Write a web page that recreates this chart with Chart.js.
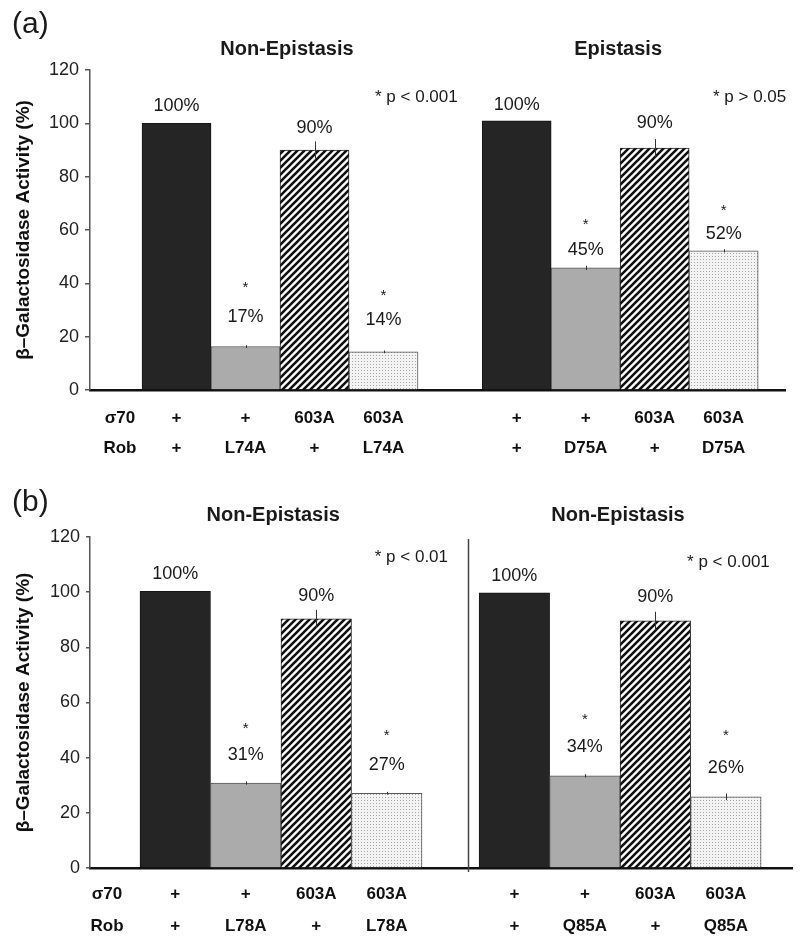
<!DOCTYPE html>
<html>
<head>
<meta charset="utf-8">
<script src="https://cdn.jsdelivr.net/npm/chart.js@4.4.1/dist/chart.umd.min.js"></script>
<style>
  body { margin: 0; background: #fff; }
  #wrap { position: relative; width: 800px; height: 940px; }
  .panel { position: absolute; left: 0; width: 800px; }
</style>
</head>
<body>
<div id="wrap">
  <div class="panel" style="top:0;height:460px"><canvas id="chartA" width="800" height="460"></canvas></div>
  <div class="panel" style="top:460px;height:480px"><canvas id="chartB" width="800" height="480"></canvas></div>
</div>
<script>
// ---- panel (a) data ----
const titlesA = ['Non-Epistasis', 'Epistasis'];
const sigmaA = ['+', '+', '603A', '603A', '+', '+', '603A', '603A'];
const robA = ['+', 'L74A', '+', 'L74A', '+', 'D75A', '+', 'D75A'];
const valuesA = [100, 16.3, 90, 14.3, 100.9, 45.8, 90.7, 52.2];
const errorsA = [0, 0.5, 3.2, 0.5, 0, 0.8, 3.4, 0.6];
const pctA = ['100%', '17%', '90%', '14%', '100%', '45%', '90%', '52%'];
const starsA = [false, true, false, true, false, true, false, true];
const notesA = ['* p < 0.001', '* p > 0.05'];

// ---- panel (b) data ----
const titlesB = ['Non-Epistasis', 'Non-Epistasis'];
const sigmaB = ['+', '+', '603A', '603A', '+', '+', '603A', '603A'];
const robB = ['+', 'L78A', '+', 'L78A', '+', 'Q85A', '+', 'Q85A'];
const valuesB = [100.3, 30.8, 90.3, 27.1, 99.8, 33.4, 89.6, 25.8];
const errorsB = [0, 0.6, 3.3, 0.5, 0, 0.6, 3.3, 1.2];
const pctB = ['100%', '31%', '90%', '27%', '100%', '34%', '90%', '26%'];
const starsB = [false, true, false, true, false, true, false, true];
const notesB = ['* p < 0.01', '* p < 0.001'];

const yTicks = [0, 20, 40, 60, 80, 100, 120];
const yTitle = 'β–Galactosidase Activity (%)';
const rowHeads = ['σ70', 'Rob'];

const FONT = '"Liberation Sans", Arial, Helvetica, sans-serif';
Chart.defaults.font.family = FONT;
Chart.defaults.color = '#1a1a1a';

function hatchPattern() {
  const c = document.createElement('canvas');
  c.width = 7; c.height = 7;
  const g = c.getContext('2d');
  g.fillStyle = '#fff';
  g.fillRect(0, 0, 7, 7);
  g.strokeStyle = '#111';
  g.lineWidth = 2.6;
  g.beginPath();
  g.moveTo(-1, 8); g.lineTo(8, -1);
  g.moveTo(-1, 1); g.lineTo(1, -1);
  g.moveTo(6, 8); g.lineTo(8, 6);
  g.stroke();
  return g.createPattern(c, 'repeat');
}

function dotPattern() {
  const c = document.createElement('canvas');
  c.width = 3; c.height = 3;
  const g = c.getContext('2d');
  g.fillStyle = '#f3f3f3';
  g.fillRect(0, 0, 3, 3);
  g.fillStyle = '#a5a5a5';
  g.fillRect(1, 1, 1, 1);
  return g.createPattern(c, 'repeat');
}

const fills4 = ['#252525', '#ababab', hatchPattern(), dotPattern()];
const borders4 = ['#151515', '#555', '#222', '#555'];

// layout of each panel (positions in slot / value units)
const panelA = {
  id: 'chartA', letter: '(a)', titles: titlesA, sigma: sigmaA, rob: robA,
  values: valuesA, errors: errorsA, pct: pctA, stars: starsA, notes: notesA,
  xMin: -1.254, xMax: 8.819, gap: 0.93, header: -0.82, barW: 69,
  padTop: 70, padRight: 15, xAxisH: 70, tickLen: 5,
  rowLine: 1.76, rowPad: 5,
  labelGap: [17, 30, 22, 32, 16, 18, 25, 17],
  starGap: [0, 32, 0, 27, 0, 28, 0, 26],
  titleX: [1.6, 6.4], titleY: 49,
  noteAt: [[2.877, 109.9], [7.775, 109.9]],
  letterY: 25, divider: null
};

const panelB = {
  id: 'chartB', letter: '(b)', titles: titlesB, sigma: sigmaB, rob: robB,
  values: valuesB, errors: errorsB, pct: pctB, stars: starsB, notes: notesB,
  xMin: -1.209, xMax: 8.748, gap: 0.81, header: -0.968, barW: 70.5,
  padTop: 77, padRight: 8, xAxisH: 72, tickLen: 4,
  rowLine: 1.88, rowPad: 2,
  labelGap: [17, 28, 23, 28, 17, 29, 24, 29],
  starGap: [0, 29, 0, 32, 0, 30, 0, 35],
  titleX: [1.39, 6.28], titleY: 55,
  noteAt: [[2.83, 112.8], [7.26, 111]],
  letterY: 43, divider: 4.152
};

function panelPlugin(p) {
  return {
    id: 'panelText',
    afterDatasetsDraw(chart) {
      const ctx = chart.ctx;
      const xs = chart.scales.x;
      const ys = chart.scales.y;
      const area = chart.chartArea;
      const bars = chart.getDatasetMeta(0).data;
      ctx.save();

      /* error bars */
      ctx.strokeStyle = '#333';
      ctx.lineWidth = 1;
      bars.forEach((bar, i) => {
        const e = p.errors[i];
        if (!e) return;
        const x = Math.round(bar.x) + 0.5;
        ctx.beginPath();
        ctx.moveTo(x, ys.getPixelForValue(p.values[i] - e));
        ctx.lineTo(x, ys.getPixelForValue(p.values[i] + e));
        ctx.stroke();
      });

      /* divider between groups */
      if (p.divider !== null) {
        const dx = Math.round(xs.getPixelForValue(p.divider)) + 0.5;
        ctx.strokeStyle = '#444';
        ctx.lineWidth = 1.5;
        ctx.beginPath();
        ctx.moveTo(dx, area.top + 2);
        ctx.lineTo(dx, area.bottom + 4);
        ctx.stroke();
      }

      /* percentage labels and stars */
      ctx.fillStyle = '#1a1a1a';
      ctx.textAlign = 'center';
      ctx.textBaseline = 'middle';
      bars.forEach((bar, i) => {
        const ly = bar.y - p.labelGap[i];
        ctx.font = '18px ' + FONT;
        ctx.fillText(p.pct[i], bar.x, ly);
        if (p.stars[i]) {
          ctx.font = '15px ' + FONT;
          ctx.fillText('*', bar.x, ly - p.starGap[i] + 3);
        }
      });

      /* group titles */
      ctx.font = 'bold 20px ' + FONT;
      p.titles.forEach((t, i) => {
        ctx.fillText(t, xs.getPixelForValue(p.titleX[i]), p.titleY);
      });

      /* p-value notes */
      ctx.textAlign = 'left';
      ctx.font = '17px ' + FONT;
      p.notes.forEach((t, i) => {
        ctx.fillText(t, xs.getPixelForValue(p.noteAt[i][0]), ys.getPixelForValue(p.noteAt[i][1]));
      });

      /* panel letter */
      ctx.font = '30px ' + FONT;
      ctx.fillText(p.letter, 12, p.letterY);
      ctx.restore();
    }
  };
}

function makePanel(p) {
  const xs = p.values.map((_, i) => (i < 4 ? i : i + p.gap));
  const tickPos = [p.header].concat(xs);

  new Chart(document.getElementById(p.id), {
    type: 'bar',
    data: {
      datasets: [{
        data: p.values.map((v, i) => ({ x: xs[i], y: v })),
        backgroundColor: p.values.map((_, i) => fills4[i % 4]),
        borderColor: p.values.map((_, i) => borders4[i % 4]),
        borderWidth: 1,
        barThickness: p.barW
      }]
    },
    options: {
      responsive: false,
      animation: false,
      layout: { padding: { top: p.padTop, right: p.padRight, left: 0, bottom: 0 } },
      plugins: { legend: { display: false }, tooltip: { enabled: false } },
      scales: {
        x: {
          type: 'linear',
          min: p.xMin,
          max: p.xMax,
          offset: false,
          bounds: 'data',
          grid: { display: false },
          border: { color: '#111', width: 2.5 },
          afterBuildTicks: (scale) => {
            scale.ticks = tickPos.map(v => ({ value: v }));
          },
          afterFit: (scale) => { scale.height = p.xAxisH; },
          ticks: {
            autoSkip: false,
            maxRotation: 0,
            padding: p.rowPad,
            color: '#111',
            font: { size: 17, weight: 'bold', lineHeight: p.rowLine },
            callback: (val, i) => (i === 0 ? rowHeads : [p.sigma[i - 1], p.rob[i - 1]])
          }
        },
        y: {
          min: 0,
          max: 120,
          afterBuildTicks: (scale) => {
            scale.ticks = yTicks.map(v => ({ value: v }));
          },
          afterFit: (scale) => { scale.width = 90; },
          grid: { drawOnChartArea: false, tickLength: p.tickLen, color: '#555', lineWidth: 1.5 },
          border: { color: '#555', width: 1.5 },
          ticks: { padding: 6, color: '#222', font: { size: 18 } },
          title: {
            display: true,
            text: yTitle,
            color: '#111',
            font: { size: 19, weight: 'bold' },
            padding: { top: 12, bottom: 0 }
          }
        }
      }
    },
    plugins: [panelPlugin(p)]
  });
}

makePanel(panelA);
makePanel(panelB);
</script>
</body>
</html>
